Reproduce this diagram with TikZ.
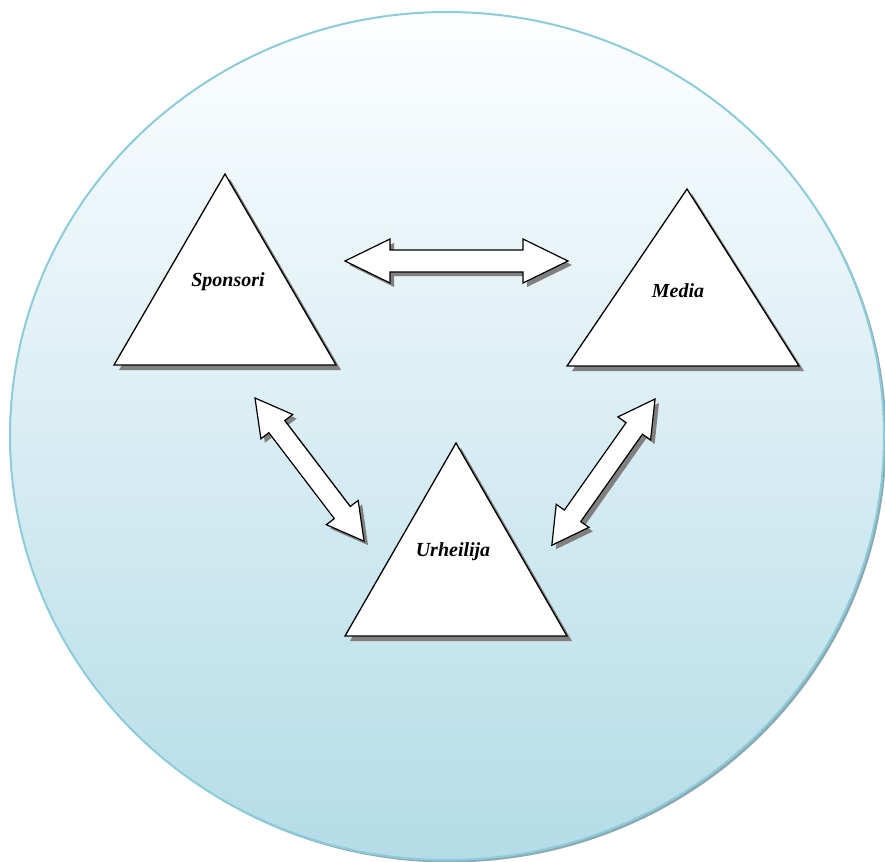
\documentclass[tikz,border=0pt]{standalone}
\usepackage{fontspec}
\setmainfont{Liberation Serif}
\begin{document}
\begin{tikzpicture}[x=1pt,y=-1pt,
  tri/.style={draw=black,fill=white,line width=1.3pt,line join=miter},
  trishadow/.style={fill=black!50},
  arr/.style={draw=black,fill=white,line width=1.2pt,line join=miter},
  arrshadow/.style={fill=black!50},
  lbl/.style={font=\fontsize{20}{24}\selectfont\bfseries\itshape,inner sep=0pt}]
\useasboundingbox (0,0) rectangle (885,861);
% circle background
\fill[color={rgb,255:red,140;green,168;blue,176}] (449.5,438.5) ellipse [x radius=437, y radius=424];
\shade[top color={rgb,255:red,253;green,254;blue,255},bottom color={rgb,255:red,180;green,220;blue,231},
  draw={rgb,255:red,140;green,204;blue,218},line width=2pt] (447,436) ellipse [x radius=437, y radius=424];
% triangles
\fill[trishadow] (230,179) -- (119,370) -- (341,370) -- cycle;
\draw[tri] (225,174) -- (114,365) -- (336,365) -- cycle;
\fill[trishadow] (692,194) -- (572,371) -- (804,371) -- cycle;
\draw[tri] (687,189) -- (567,366) -- (799,366) -- cycle;
\fill[trishadow] (461,448) -- (350,641) -- (572,641) -- cycle;
\draw[tri] (456,443) -- (345,636) -- (567,636) -- cycle;
\node[lbl] (sponsori) at (228,282) {Sponsori};
\node[lbl] (media) at (678,291) {Media};
\node[lbl] (urheilija) at (453,552) {Urheilija};
% double arrows
\newcommand{\dblarr}[7]{% x y angle L h w s
  \begin{scope}[shift={(#1+4,#2+4)},rotate=#3]
    \fill[arrshadow] (0,0) -- (#5,#6) -- (#5,#7) -- (#4-#5,#7) -- (#4-#5,#6) -- (#4,0) -- (#4-#5,-#6) -- (#4-#5,-#7) -- (#5,-#7) -- (#5,-#6) -- cycle;
  \end{scope}
  \begin{scope}[shift={(#1,#2)},rotate=#3]
    \draw[arr] (0,0) -- (#5,#6) -- (#5,#7) -- (#4-#5,#7) -- (#4-#5,#6) -- (#4,0) -- (#4-#5,-#6) -- (#4-#5,-#7) -- (#5,-#7) -- (#5,-#6) -- cycle;
  \end{scope}}
\dblarr{345}{261}{0}{223}{45}{22}{11}
\dblarr{255}{398}{-52.7}{180}{36}{20}{10}
\dblarr{655}{399}{-125.2}{179}{36}{20}{10}
\end{tikzpicture}
\end{document}
